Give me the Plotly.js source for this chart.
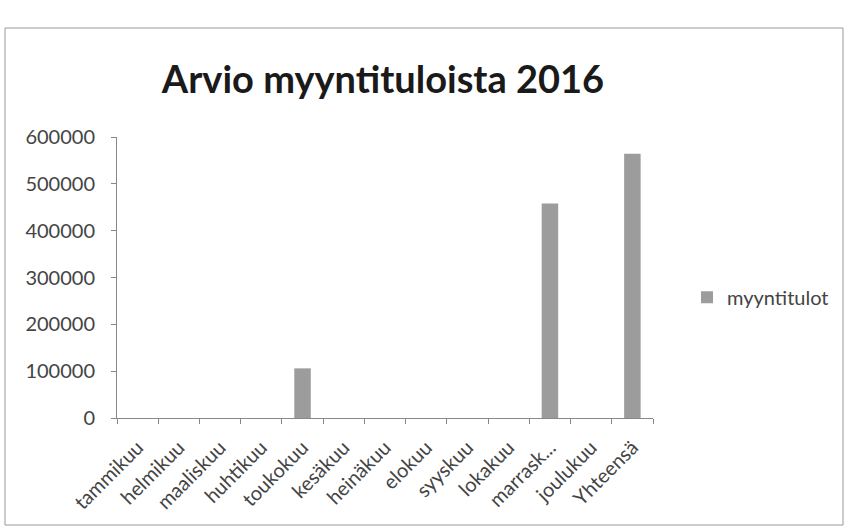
<!DOCTYPE html>
<html>
<head>
<meta charset="utf-8">
<script src="https://cdn.plot.ly/plotly-3.0.1.min.js"></script>
<style>html,body{margin:0;padding:0;background:#fff;}#chart{width:847px;height:529px;}</style>
</head>
<body>
<div id="chart"></div>
<script>
const months = ["tammikuu","helmikuu","maaliskuu","huhtikuu","toukokuu","kesäkuu","heinäkuu","elokuu","syyskuu","lokakuu","marrask...","joulukuu","Yhteensä"];
const myyntitulot = [0,0,0,0,106000,0,0,0,0,0,458000,0,564000];
const yTicks = [0,100000,200000,300000,400000,500000,600000];
const seriesName = "myyntitulot";
const chartTitle = "Arvio myyntituloista 2016";

const trace = {
  type: "bar",
  x: months,
  y: myyntitulot,
  name: seriesName,
  marker: {color: "#9c9c9c", line: {width: 0}},
  showlegend: true
};

const layout = {
  width: 847, height: 529,
  paper_bgcolor: "#fff", plot_bgcolor: "#fff",
  margin: {l: 117, r: 194, t: 137, b: 111, autoexpand: false},
  font: {family: "Lato, 'Open Sans', sans-serif", color: "#555", size: 16},
  title: {text: "<b>" + chartTitle + "</b>", x: 383/847, xanchor: "center", y: 1 - 80/529, yanchor: "middle",
          font: {family: "Lato, 'Open Sans', sans-serif", size: 38, color: "#1a1a1a"}},
  bargap: 0.6,
  xaxis: {
    type: "category", tickangle: -45, showline: true, linecolor: "#888", linewidth: 1,
    ticks: "outside", tickson: "boundaries", ticklen: 5, tickcolor: "#888", ticklabelstandoff: 9,
    tickfont: {size: 20, color: "#444"}, showgrid: false, zeroline: false, fixedrange: true
  },
  yaxis: {
    range: [0, 600000], tickvals: yTicks, ticktext: yTicks.map(String),
    showline: true, linecolor: "#888", linewidth: 1, ticks: "outside", ticklen: 5, tickcolor: "#888",
    ticklabelstandoff: 12,
    tickfont: {size: 20, color: "#444"}, showgrid: false, zeroline: false, fixedrange: true
  },
  legend: {x: 570/536, xanchor: "left", y: 0.43, yanchor: "middle", font: {size: 20, color: "#444"},
           itemwidth: 30, bgcolor: "rgba(0,0,0,0)"},
  shapes: [{type: "rect", xref: "paper", yref: "paper",
            x0: -112/536, x1: 726/536, y0: -107/281, y1: 390/281,
            line: {color: "#999", width: 1}}]
};

Plotly.newPlot("chart", [trace], layout, {displayModeBar: false, staticPlot: true});
</script>
</body>
</html>
